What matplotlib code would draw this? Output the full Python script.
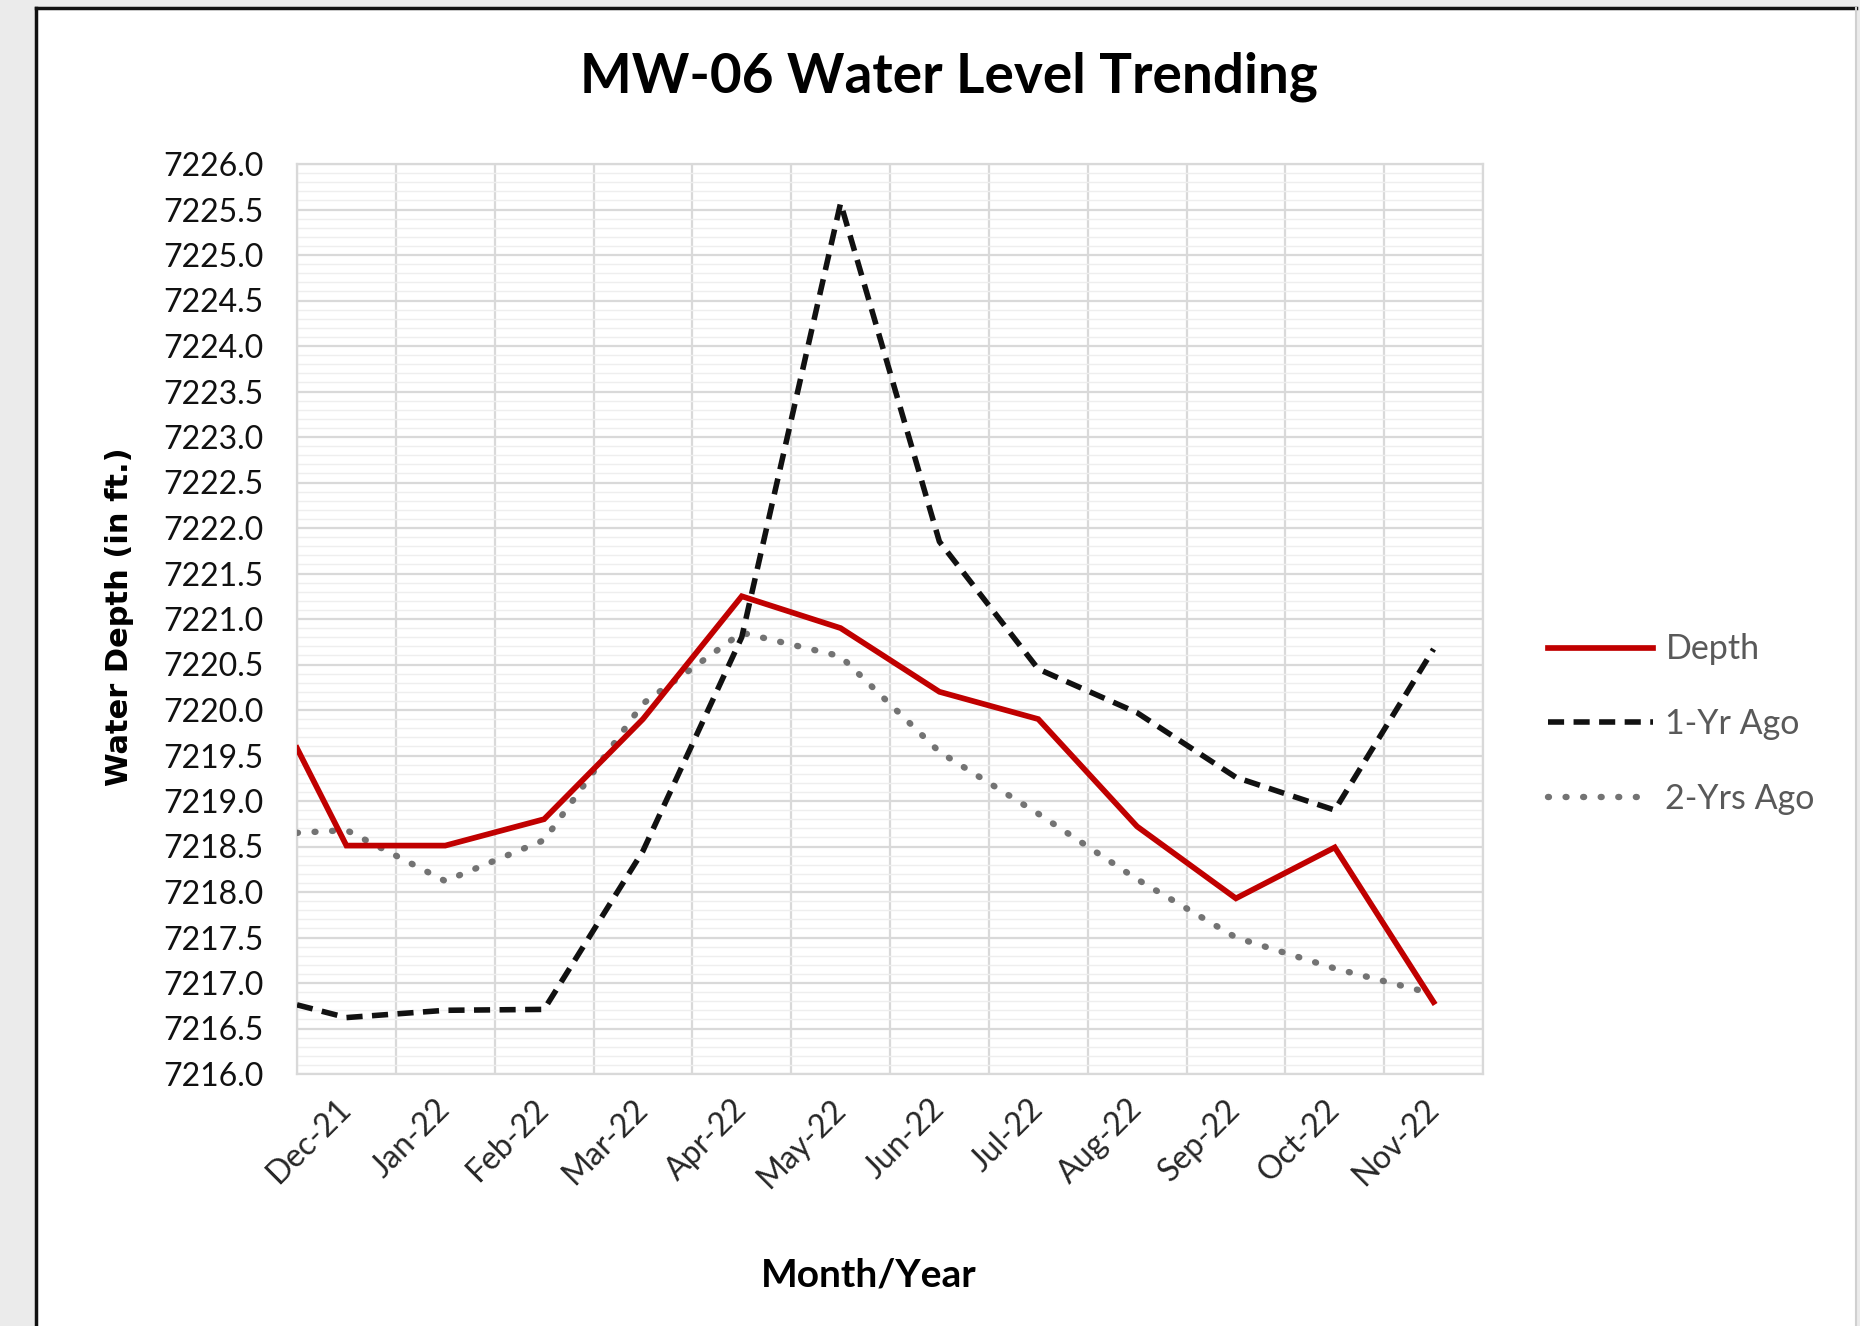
import numpy as np
import matplotlib
matplotlib.use("Agg")
import matplotlib.pyplot as plt
from matplotlib.patches import Rectangle
from matplotlib.lines import Line2D
from matplotlib.ticker import MultipleLocator, FixedLocator

months = ["Dec-21", "Jan-22", "Feb-22", "Mar-22", "Apr-22", "May-22",
          "Jun-22", "Jul-22", "Aug-22", "Sep-22", "Oct-22", "Nov-22"]

# value where each line enters at the left edge of the plot (earlier point is cut off)
depth_edge = 7219.58
yr1_edge = 7216.76
yr2_edge = 7218.65

depth = [7218.51, 7218.51, 7218.80, 7219.90, 7221.25, 7220.90,
         7220.20, 7219.90, 7218.72, 7217.93, 7218.49, 7216.79]
one_yr_ago = [7216.62, 7216.70, 7216.71, 7218.45, 7220.80, 7225.57,
              7221.85, 7220.45, 7219.97, 7219.26, 7218.90, 7220.67]
two_yrs_ago = [7218.68, 7218.12, 7218.57, 7220.07, 7220.85, 7220.59,
               7219.54, 7218.86, 7218.14, 7217.50, 7217.16, 7216.88]

FONT = ["Lato", "DejaVu Sans"]
plt.rcParams["font.family"] = FONT


def main():
    fig = plt.figure(figsize=(18.6, 13.26), dpi=100, facecolor="#ebebeb")

    # white chart area with dark border on left/top
    W, H = 1860, 1326
    x0, y0, x1 = 36, 8, 1856
    fig.patches.append(Rectangle((x0 / W, 0), (x1 - x0) / W, 1 - y0 / H,
                                 transform=fig.transFigure, facecolor="white",
                                 edgecolor="none", zorder=-5))
    fig.add_artist(Line2D([x0 / W, x0 / W], [0, 1 - y0 / H], transform=fig.transFigure,
                          color="#111111", lw=2.5))
    fig.add_artist(Line2D([x0 / W, x1 / W], [1 - y0 / H, 1 - y0 / H], transform=fig.transFigure,
                          color="#111111", lw=2.5))
    fig.add_artist(Line2D([x1 / W, x1 / W], [0, 1 - y0 / H], transform=fig.transFigure,
                          color="#d0d0d0", lw=1.5))

    ax = fig.add_axes([297 / W, 1 - 1074 / H, (1483 - 297) / W, (1074 - 164) / H])
    ax.set_zorder(2)
    ax.patch.set_alpha(0)

    x = np.arange(len(months))
    xe = np.concatenate([[-0.5], x])

    ax.plot(xe, [yr2_edge] + two_yrs_ago, color="#737373", lw=4.6,
            dashes=(0.15, 2.6), dash_capstyle="round", label="2-Yrs Ago", zorder=3)
    ax.plot(xe, [yr1_edge] + one_yr_ago, color="#111111", lw=4.0,
            dashes=(2.9, 1.7), dash_capstyle="butt", label="1-Yr Ago", zorder=4)
    ax.plot(xe, [depth_edge] + depth, color="#c00000", lw=4.1,
            solid_joinstyle="miter", label="Depth", zorder=5)

    ax.set_xlim(-0.5, len(months) - 0.5)
    ax.set_ylim(7216, 7226)

    ax.yaxis.set_major_locator(MultipleLocator(0.5))
    ax.yaxis.set_minor_locator(MultipleLocator(0.1))
    ax.yaxis.set_major_formatter(plt.FuncFormatter(lambda v, p: f"{v:.1f}"))
    ax.xaxis.set_major_locator(FixedLocator(x))
    ax.xaxis.set_minor_locator(FixedLocator(np.arange(-0.5, len(months), 1.0)))
    ax.set_xticklabels(months)

    ax.grid(True, which="major", axis="y", color="#d9d9d9", lw=1.6)
    ax.grid(True, which="minor", axis="y", color="#eeeeee", lw=1.0)
    ax.grid(True, which="minor", axis="x", color="#d9d9d9", lw=1.6)
    ax.set_axisbelow(True)
    for s in ax.spines.values():
        s.set_color("#d9d9d9")
        s.set_linewidth(1.6)

    ax.tick_params(axis="y", which="both", length=0, pad=24, labelsize=23, labelcolor="#111111")
    ax.tick_params(axis="x", which="both", length=0, pad=22, labelsize=23, labelcolor="#262626")
    for lbl in ax.get_xticklabels():
        lbl.set_rotation(45)
        lbl.set_ha("right")
        lbl.set_va("center")
        lbl.set_rotation_mode("anchor")

    fig.text(949 / W, 1 - 77 / H, "MW-06 Water Level Trending", ha="center", va="center",
             fontsize=39.5, fontweight="bold", color="#000000")
    fig.text(869 / W, 1 - 1275 / H, "Month/Year", ha="center", va="center",
             fontsize=28, fontweight="bold", color="#000000")
    fig.text(119 / W, 1 - 617 / H, "Water Depth (in ft.)", ha="center", va="center",
             rotation=90, fontsize=22, fontweight="bold", color="#000000",
             family=["DejaVu Sans"])

    handles, labels = ax.get_legend_handles_labels()
    order = [2, 1, 0]
    leg = fig.legend([handles[i] for i in order], [labels[i] for i in order],
                     loc="center left", bbox_to_anchor=(1548 / W, 1 - 724 / H),
                     frameon=False, fontsize=24.5, handlelength=3.1, handletextpad=0.35,
                     labelspacing=1.25, borderpad=0, borderaxespad=0)
    for t in leg.get_texts():
        t.set_color("#595959")

    fig.savefig("out.png", dpi=100, facecolor=fig.get_facecolor())


if __name__ == "__main__":
    main()
